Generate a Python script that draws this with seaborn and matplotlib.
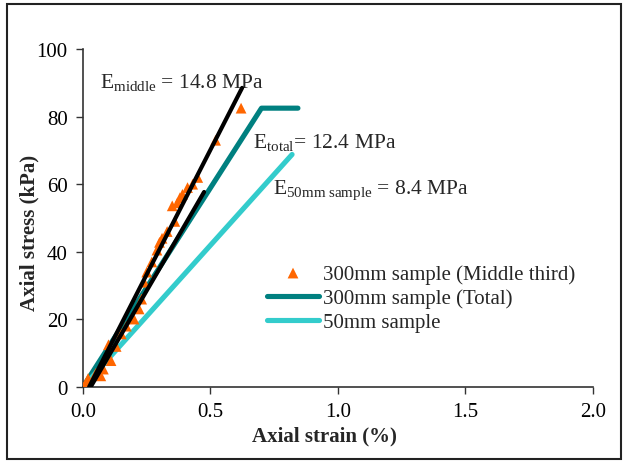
import numpy as np
import pandas as pd
import matplotlib
matplotlib.use("Agg")
import matplotlib.pyplot as plt
import seaborn as sns
from matplotlib.patches import Rectangle

# data
mid_strain = [0.01, 0.02, 0.05, 0.07, 0.08, 0.10, 0.11, 0.13, 0.15, 0.17,
              0.20, 0.22, 0.23, 0.24, 0.25, 0.27, 0.29, 0.30, 0.31, 0.33,
              0.35, 0.36, 0.37, 0.38, 0.39, 0.41, 0.43, 0.45, 0.52, 0.62]
mid_stress = [1.0, 2.5, 4.0, 3.3, 5.3, 12.5, 7.8, 12.0, 15.7, 18.0,
              20.1, 23.1, 26.0, 31.0, 34.0, 37.0, 40.5, 42.8, 44.0, 46.0,
              53.6, 49.0, 54.5, 56.0, 57.0, 59.0, 60.0, 62.0, 73.0, 82.5]

total_strain = [0.0, 0.70, 0.843]
total_stress = [0.0, 82.5, 82.5]

small_strain = [0.0, 0.82]
small_stress = [0.0, 68.8]

fit_mid_strain = [0.024, 0.624]
fit_mid_stress = [0.0, 88.5]
fit_tot_strain = [0.03, 0.475]
fit_tot_stress = [0.0, 57.7]

sns.set_style("white")
plt.rcParams['font.family'] = ['Liberation Serif', 'DejaVu Serif']
plt.rcParams['mathtext.fontset'] = 'custom'
plt.rcParams['mathtext.rm'] = 'Liberation Serif'
plt.rcParams['mathtext.it'] = 'Liberation Serif:italic'

fig = plt.figure(figsize=(6.23, 4.64), dpi=100)
ax = fig.add_axes([0.1332, 0.1638, 0.8186, 0.7284])

sns.lineplot(x=total_strain, y=total_stress, ax=ax, color='#008080', lw=3.7,
             sort=False, estimator=None, label='300mm sample (Total)', zorder=2)
sns.lineplot(x=small_strain, y=small_stress, ax=ax, color='#33CCCC', lw=3.7,
             sort=False, estimator=None, label='50mm sample', zorder=2)
sns.scatterplot(x=mid_strain, y=mid_stress, ax=ax, marker='^', color='#FF6600',
                s=60, edgecolor='none', label='300mm sample (Middle third)', zorder=3)
sns.lineplot(x=fit_mid_strain, y=fit_mid_stress, ax=ax, color='black', lw=3,
             sort=False, estimator=None, zorder=4)
sns.lineplot(x=fit_tot_strain, y=fit_tot_stress, ax=ax, color='black', lw=3,
             sort=False, estimator=None, zorder=4)

ax.set_xlim(0, 2.0)
ax.set_ylim(0, 100)
ax.set_xticks(np.arange(0, 2.01, 0.5))
ax.set_xticklabels(['0.0', '0.5', '1.0', '1.5', '2.0'])
ax.set_yticks(np.arange(0, 101, 20))
ax.tick_params(axis='both', direction='out', length=5, width=1, colors='#333333',
               labelsize=15, labelcolor='black', bottom=True, left=True, pad=6)
for side in ['top', 'right']:
    ax.spines[side].set_visible(False)
for side in ['left', 'bottom']:
    ax.spines[side].set_color('#333333')
    ax.spines[side].set_linewidth(1.2)

ax.set_xlabel('Axial strain (%)', fontsize=15, fontweight='bold')
ax.set_ylabel('Axial stress (kPa)', fontsize=15, fontweight='bold')
ax.xaxis.set_label_coords(0.473, -0.115)
ax.yaxis.set_label_coords(-0.086, 0.46)

ax.text(0.067, 90.5, r'E$_{\mathrm{middle}}$ = 14.8 MPa', fontsize=15.5, va='center')
ax.text(0.667, 72.5, r'E$_{\mathrm{total}}$= 12.4 MPa', fontsize=15.5, va='center')
ax.text(0.745, 58.6, r'E$_{\mathrm{50mm\ sample}}$ = 8.4 MPa', fontsize=15.5, va='center')

h, l = ax.get_legend_handles_labels()
order = [2, 0, 1]
ax.legend([h[i] for i in order], [l[i] for i in order], loc='upper left',
          bbox_to_anchor=(0.325, 0.42), frameon=False, fontsize=15,
          handlelength=2.45, handletextpad=0.2, labelspacing=0.22)

fig.add_artist(Rectangle((0.011, 0.008), 0.985, 0.982, transform=fig.transFigure,
                         fill=False, edgecolor='#222222', lw=1.5))

fig.savefig('out.png', dpi=100)
